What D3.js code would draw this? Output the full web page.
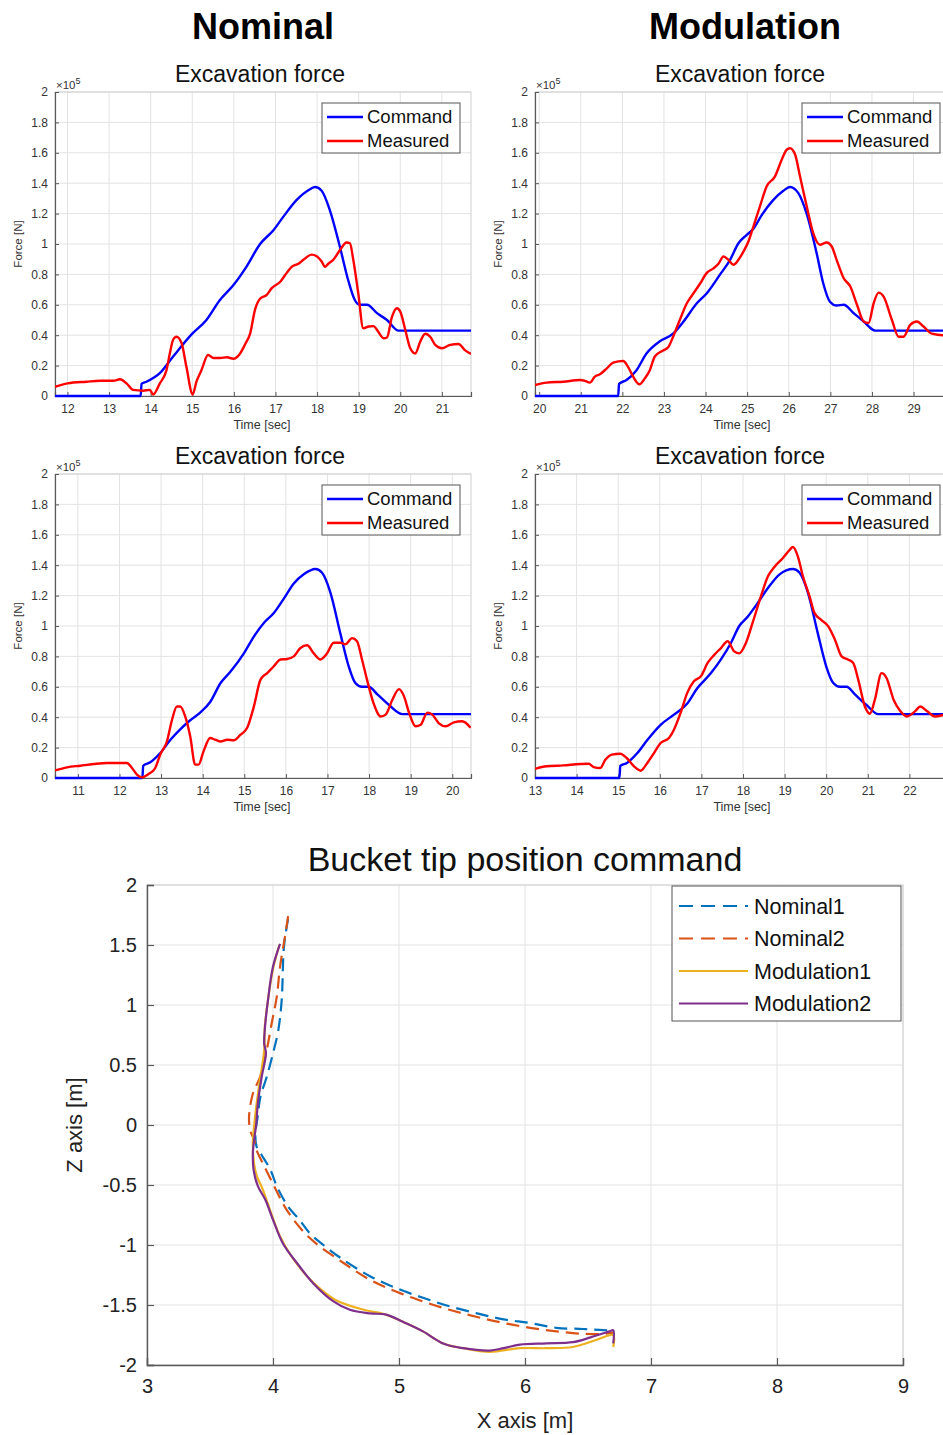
<!DOCTYPE html>
<html>
<head>
<meta charset="utf-8">
<script src="https://cdn.jsdelivr.net/npm/d3@7"></script>
<style>
  html, body { margin: 0; padding: 0; background: #fff; }
  svg { display: block; font-family: "Liberation Sans", Arial, Helvetica, sans-serif; }
</style>
</head>
<body>
<svg id="chart" width="943" height="1435"></svg>
<script>
// ---------------- DATA ----------------
const columnTitles = ["Nominal", "Modulation"];
const panelTitle = "Excavation force";
const forceTicks = [0, 0.2, 0.4, 0.6, 0.8, 1, 1.2, 1.4, 1.6, 1.8, 2];
const legendForce = ["Command", "Measured"];

// Panel A: Nominal, run 1  (time [s], force [x1e5 N])
const timeTicksA = [12, 13, 14, 15, 16, 17, 18, 19, 20, 21];
const commandA = [[11.7,0],[13.76,0],[13.78,0.08],[13.9,0.094],[14.22,0.15],[14.54,0.26],[15.0,0.41],[15.34,0.5],[15.66,0.63],[15.99,0.73],[16.3,0.85],[16.63,1.0],[16.95,1.09],[17.19,1.18],[17.51,1.29],[17.83,1.36],[17.95,1.375],[18.11,1.35],[18.31,1.22],[18.55,0.98],[18.75,0.76],[18.91,0.63],[19.03,0.6],[19.2,0.6],[19.44,0.545],[19.68,0.5],[19.96,0.43],[21.7,0.43]];
const measuredA = [[11.7,0.06],[12.0,0.083],[12.46,0.094],[12.78,0.1],[13.1,0.1],[13.26,0.11],[13.42,0.083],[13.58,0.04],[13.82,0.035],[13.98,0.04],[14.06,0.01],[14.22,0.083],[14.38,0.17],[14.46,0.28],[14.54,0.37],[14.62,0.39],[14.74,0.35],[14.86,0.19],[15.01,0.01],[15.1,0.094],[15.22,0.17],[15.38,0.27],[15.51,0.25],[15.67,0.25],[15.83,0.255],[15.99,0.245],[16.15,0.28],[16.27,0.34],[16.39,0.41],[16.51,0.57],[16.63,0.64],[16.79,0.665],[16.91,0.71],[17.11,0.75],[17.27,0.81],[17.39,0.85],[17.55,0.87],[17.67,0.896],[17.87,0.93],[17.99,0.92],[18.11,0.885],[18.19,0.85],[18.27,0.87],[18.39,0.896],[18.55,0.96],[18.71,1.01],[18.79,1.005],[18.87,0.896],[18.99,0.676],[19.11,0.446],[19.24,0.457],[19.36,0.46],[19.44,0.435],[19.6,0.38],[19.68,0.385],[19.8,0.52],[19.92,0.577],[20.0,0.555],[20.12,0.435],[20.24,0.314],[20.36,0.28],[20.48,0.358],[20.6,0.41],[20.72,0.39],[20.84,0.336],[21.0,0.314],[21.2,0.336],[21.4,0.342],[21.56,0.3],[21.7,0.277]];

// Panel B: Modulation, run 1
const timeTicksB = [20, 21, 22, 23, 24, 25, 26, 27, 28, 29];
const commandB = [[19.9,0],[21.9,0],[21.92,0.08],[22.1,0.105],[22.34,0.17],[22.58,0.28],[22.9,0.36],[23.22,0.41],[23.47,0.49],[23.79,0.61],[24.03,0.676],[24.35,0.8],[24.59,0.896],[24.79,1.005],[24.99,1.06],[25.15,1.1],[25.35,1.19],[25.63,1.29],[25.87,1.35],[26.03,1.375],[26.23,1.335],[26.43,1.2],[26.67,0.94],[26.83,0.74],[26.99,0.62],[27.15,0.595],[27.32,0.6],[27.56,0.545],[27.8,0.49],[28.08,0.43],[29.9,0.43]];
const measuredB = [[19.9,0.072],[20.18,0.088],[20.58,0.094],[20.98,0.105],[21.1,0.1],[21.22,0.088],[21.34,0.127],[21.46,0.143],[21.62,0.18],[21.78,0.22],[22.02,0.23],[22.14,0.19],[22.26,0.127],[22.41,0.077],[22.54,0.116],[22.66,0.17],[22.78,0.26],[22.98,0.3],[23.1,0.32],[23.22,0.39],[23.38,0.5],[23.55,0.61],[23.71,0.676],[23.87,0.74],[24.03,0.81],[24.19,0.84],[24.31,0.87],[24.43,0.918],[24.55,0.896],[24.67,0.863],[24.79,0.896],[24.91,0.95],[25.03,1.016],[25.15,1.115],[25.31,1.25],[25.47,1.38],[25.67,1.445],[25.83,1.554],[25.95,1.62],[26.03,1.63],[26.15,1.59],[26.27,1.445],[26.43,1.25],[26.59,1.07],[26.75,0.995],[26.91,1.01],[27.03,0.985],[27.15,0.896],[27.32,0.775],[27.48,0.72],[27.64,0.6],[27.8,0.49],[27.92,0.48],[28.04,0.61],[28.16,0.68],[28.28,0.654],[28.48,0.5],[28.64,0.39],[28.76,0.39],[28.92,0.468],[29.08,0.49],[29.24,0.457],[29.44,0.41],[29.72,0.4],[29.9,0.4]];

// Panel C: Nominal, run 2
const timeTicksC = [11, 12, 13, 14, 15, 16, 17, 18, 19, 20];
const commandC = [[10.45,0],[12.55,0],[12.57,0.08],[12.74,0.103],[12.98,0.164],[13.22,0.25],[13.46,0.32],[13.7,0.38],[13.94,0.43],[14.18,0.5],[14.43,0.625],[14.67,0.7],[14.99,0.82],[15.23,0.93],[15.47,1.02],[15.71,1.085],[15.95,1.18],[16.19,1.28],[16.43,1.34],[16.71,1.375],[16.87,1.35],[17.07,1.22],[17.31,0.95],[17.51,0.735],[17.67,0.625],[17.83,0.6],[17.99,0.6],[18.2,0.55],[18.48,0.48],[18.8,0.42],[20.45,0.42]];
const measuredC = [[10.45,0.05],[10.74,0.07],[11.06,0.081],[11.38,0.092],[11.7,0.099],[12.02,0.099],[12.18,0.099],[12.3,0.066],[12.42,0.022],[12.54,0.004],[12.7,0.026],[12.86,0.066],[12.98,0.154],[13.14,0.24],[13.26,0.38],[13.38,0.47],[13.46,0.47],[13.58,0.405],[13.7,0.274],[13.82,0.088],[13.9,0.088],[14.02,0.175],[14.18,0.263],[14.3,0.252],[14.43,0.24],[14.59,0.252],[14.75,0.248],[14.91,0.285],[15.07,0.33],[15.23,0.47],[15.39,0.647],[15.55,0.69],[15.71,0.735],[15.87,0.78],[16.03,0.783],[16.19,0.8],[16.35,0.855],[16.51,0.873],[16.67,0.82],[16.83,0.78],[16.99,0.82],[17.15,0.89],[17.31,0.89],[17.43,0.88],[17.59,0.92],[17.71,0.9],[17.83,0.78],[17.95,0.647],[18.11,0.49],[18.28,0.405],[18.4,0.417],[18.56,0.515],[18.72,0.585],[18.84,0.537],[18.96,0.43],[19.12,0.34],[19.24,0.35],[19.4,0.43],[19.52,0.417],[19.68,0.36],[19.84,0.34],[20.04,0.366],[20.24,0.373],[20.44,0.33]];

// Panel D: Modulation, run 2
const timeTicksD = [13, 14, 15, 16, 17, 18, 19, 20, 21, 22];
const commandD = [[13,0],[15.03,0],[15.05,0.08],[15.21,0.099],[15.46,0.164],[15.7,0.25],[16.02,0.35],[16.34,0.417],[16.66,0.49],[16.9,0.59],[17.23,0.69],[17.47,0.78],[17.71,0.888],[17.91,1.0],[18.11,1.06],[18.35,1.15],[18.6,1.25],[18.88,1.34],[19.2,1.375],[19.36,1.35],[19.56,1.22],[19.8,0.95],[20.0,0.735],[20.17,0.625],[20.33,0.6],[20.49,0.6],[20.69,0.55],[20.97,0.48],[21.25,0.42],[23,0.42]];
const measuredD = [[13.0,0.06],[13.28,0.077],[13.68,0.083],[14.09,0.092],[14.29,0.094],[14.41,0.072],[14.57,0.066],[14.69,0.12],[14.85,0.154],[15.05,0.16],[15.21,0.13],[15.38,0.077],[15.54,0.048],[15.7,0.099],[15.86,0.164],[16.02,0.23],[16.22,0.263],[16.34,0.318],[16.5,0.428],[16.66,0.56],[16.82,0.636],[16.99,0.67],[17.15,0.757],[17.31,0.81],[17.47,0.855],[17.63,0.9],[17.79,0.833],[17.91,0.82],[18.07,0.888],[18.23,1.02],[18.43,1.195],[18.6,1.327],[18.76,1.39],[18.96,1.447],[19.12,1.5],[19.2,1.52],[19.32,1.457],[19.44,1.327],[19.6,1.195],[19.72,1.085],[19.88,1.04],[20.05,0.998],[20.21,0.91],[20.37,0.8],[20.53,0.778],[20.65,0.757],[20.77,0.647],[20.93,0.47],[21.05,0.423],[21.17,0.515],[21.33,0.69],[21.45,0.658],[21.62,0.515],[21.78,0.44],[21.94,0.405],[22.14,0.44],[22.26,0.47],[22.42,0.44],[22.62,0.405],[22.86,0.417],[23.0,0.42]];

// Bucket tip position command  (X [m], Z [m])
const bucketTitle = "Bucket tip position command";
const xTicksPos = [3, 4, 5, 6, 7, 8, 9];
const zTicksPos = [-2, -1.5, -1, -0.5, 0, 0.5, 1, 1.5, 2];
const posSeriesNames = ["Nominal1", "Nominal2", "Modulation1", "Modulation2"];
const nominal1 = [[4.12,1.72],[4.087,1.486],[4.069,1.04],[4.042,0.79],[4.0,0.597],[3.95,0.4],[3.9,0.236],[3.88,0.08],[3.86,-0.08],[3.87,-0.18],[3.91,-0.25],[3.98,-0.375],[4.03,-0.51],[4.12,-0.68],[4.21,-0.79],[4.29,-0.9],[4.4,-1.0],[4.56,-1.125],[4.77,-1.26],[4.98,-1.36],[5.19,-1.44],[5.4,-1.51],[5.62,-1.57],[5.83,-1.62],[6.04,-1.65],[6.25,-1.69],[6.46,-1.7],[6.62,-1.71],[6.7,-1.71]];
const nominal2 = [[4.12,1.74],[4.095,1.57],[4.056,1.32],[4.03,1.07],[3.99,0.85],[3.95,0.625],[3.897,0.4],[3.84,0.26],[3.81,0.07],[3.82,-0.05],[3.85,-0.12],[3.87,-0.21],[3.92,-0.32],[4.0,-0.49],[4.11,-0.71],[4.29,-0.94],[4.56,-1.15],[4.77,-1.29],[4.98,-1.39],[5.19,-1.47],[5.4,-1.54],[5.62,-1.6],[5.83,-1.65],[6.04,-1.69],[6.25,-1.72],[6.46,-1.74],[6.62,-1.74],[6.7,-1.73]];
const modulation1 = [[4.05,1.5],[4.0,1.3],[3.96,1.04],[3.935,0.82],[3.93,0.62],[3.9,0.4],[3.87,0.18],[3.85,-0.01],[3.84,-0.15],[3.846,-0.29],[3.87,-0.42],[3.92,-0.54],[3.99,-0.75],[4.056,-0.93],[4.15,-1.1],[4.27,-1.26],[4.38,-1.37],[4.5,-1.46],[4.72,-1.54],[4.88,-1.575],[5.03,-1.64],[5.19,-1.72],[5.35,-1.82],[5.51,-1.86],[5.72,-1.89],[5.96,-1.86],[6.17,-1.86],[6.38,-1.85],[6.57,-1.79],[6.7,-1.75],[6.7,-1.85]];
const modulation2 = [[4.056,1.51],[4.0,1.32],[3.96,1.04],[3.937,0.82],[3.93,0.68],[3.944,0.6],[3.91,0.4],[3.88,0.18],[3.865,-0.01],[3.85,-0.125],[3.84,-0.24],[3.846,-0.375],[3.88,-0.51],[3.94,-0.625],[4.0,-0.79],[4.08,-0.99],[4.19,-1.15],[4.32,-1.32],[4.48,-1.47],[4.61,-1.54],[4.77,-1.57],[4.9,-1.58],[5.03,-1.64],[5.19,-1.72],[5.35,-1.82],[5.51,-1.86],[5.72,-1.88],[5.83,-1.86],[5.96,-1.83],[6.17,-1.82],[6.38,-1.81],[6.52,-1.77],[6.67,-1.72],[6.7,-1.71],[6.7,-1.82]];

// ---------------- DRAWING ----------------
const svg = d3.select("#chart");
svg.append("rect").attr("width", 943).attr("height", 1435).attr("fill", "#fff");

const GRID = "#e3e3e3", AXIS = "#5a5a5a", TXT = "#333";
const BLUE = "#0000ff", RED = "#ff0000";

// Column headers
svg.selectAll("text.colhead").data(columnTitles).enter().append("text")
  .attr("class", "colhead")
  .attr("x", (d, i) => i === 0 ? 263 : 745)
  .attr("y", 39)
  .attr("text-anchor", "middle")
  .attr("font-weight", "bold").attr("font-size", 36).attr("fill", "#000")
  .text(d => d);

const fmt = d => String(+d.toFixed(1));

function forcePanel(cfg) {
  const { left, top, width, height, domain, ticks, cmd, meas } = cfg;
  const x = d3.scaleLinear().domain(domain).range([left, left + width]);
  const y = d3.scaleLinear().domain([0, 2]).range([top + height, top]);
  const g = svg.append("g");

  const clipId = "clip" + Math.round(left) + "_" + Math.round(top);
  svg.append("clipPath").attr("id", clipId).append("rect")
    .attr("x", left).attr("y", top - 2).attr("width", width).attr("height", height + 4);

  // grid
  g.append("g").selectAll("line").data(ticks).enter().append("line")
    .attr("x1", d => x(d)).attr("x2", d => x(d)).attr("y1", top).attr("y2", top + height)
    .attr("stroke", GRID).attr("stroke-width", 1);
  g.append("g").selectAll("line").data(forceTicks).enter().append("line")
    .attr("x1", left).attr("x2", left + width).attr("y1", d => y(d)).attr("y2", d => y(d))
    .attr("stroke", GRID).attr("stroke-width", 1);
  // box
  g.append("rect").attr("x", left).attr("y", top).attr("width", width).attr("height", height)
    .attr("fill", "none").attr("stroke", "#cfcfcf").attr("stroke-width", 1);

  // axes
  const xAxis = d3.axisBottom(x).tickValues(ticks).tickSize(-4).tickPadding(8).tickFormat(d => d);
  const yAxis = d3.axisLeft(y).tickValues(forceTicks).tickSize(-4).tickPadding(7).tickFormat(fmt);
  const gx = g.append("g").attr("transform", `translate(0,${top + height})`).call(xAxis);
  const gy = g.append("g").attr("transform", `translate(${left},0)`).call(yAxis);
  [gx, gy].forEach(a => {
    a.select(".domain").attr("stroke", AXIS).attr("stroke-width", 1.2);
    a.selectAll(".tick line").attr("stroke", AXIS);
    a.selectAll(".tick text").attr("fill", TXT).attr("font-size", 12)
      .attr("font-family", "'Liberation Sans', Arial, sans-serif");
  });

  // lines
  const line = d3.line().x(d => x(d[0])).y(d => y(d[1])).curve(d3.curveMonotoneX);
  const lg = g.append("g").attr("clip-path", `url(#${clipId})`);
  lg.append("path").datum(cmd).attr("d", line).attr("fill", "none")
    .attr("stroke", BLUE).attr("stroke-width", 2.4).attr("stroke-linejoin", "round");
  lg.append("path").datum(meas).attr("d", line).attr("fill", "none")
    .attr("stroke", RED).attr("stroke-width", 2.4).attr("stroke-linejoin", "round");

  // title
  g.append("text").attr("x", left + width / 2 - 3).attr("y", top - 10)
    .attr("text-anchor", "middle").attr("font-size", 23).attr("fill", "#111").text(panelTitle);
  // exponent
  const ex = g.append("text").attr("x", left + 1).attr("y", top - 3)
    .attr("font-size", 11.5).attr("fill", TXT);
  ex.append("tspan").text("\u00d710");
  ex.append("tspan").attr("dy", -5).attr("font-size", 9).text("5");
  // axis labels
  g.append("text").attr("x", left + width / 2 - 1).attr("y", top + height + 33)
    .attr("text-anchor", "middle").attr("font-size", 12.5).attr("fill", TXT).text("Time [sec]");
  g.append("text").attr("transform", `translate(${left - 33},${top + height / 2}) rotate(-90)`)
    .attr("text-anchor", "middle").attr("font-size", 11.5).attr("fill", TXT).text("Force [N]");

  // legend
  const lw = 138, lh = 50;
  const lx = left + width - 11 - lw, ly = top + 11;
  const leg = g.append("g");
  leg.append("rect").attr("x", lx).attr("y", ly).attr("width", lw).attr("height", lh)
    .attr("fill", "#fff").attr("stroke", "#555").attr("stroke-width", 1);
  const cols = [BLUE, RED];
  legendForce.forEach((name, i) => {
    const cy = ly + 14 + i * 24;
    leg.append("line").attr("x1", lx + 5).attr("x2", lx + 41).attr("y1", cy).attr("y2", cy)
      .attr("stroke", cols[i]).attr("stroke-width", 2.4);
    leg.append("text").attr("x", lx + 45).attr("y", cy).attr("dy", "0.35em")
      .attr("font-size", 18.5).attr("fill", "#111").text(name);
  });
}

forcePanel({ left: 55, top: 92, width: 416, height: 304, domain: [11.7, 21.7], ticks: timeTicksA, cmd: commandA, meas: measuredA });
forcePanel({ left: 535, top: 92, width: 416, height: 304, domain: [19.9, 29.9], ticks: timeTicksB, cmd: commandB, meas: measuredB });
forcePanel({ left: 55, top: 474, width: 416, height: 304, domain: [10.45, 20.45], ticks: timeTicksC, cmd: commandC, meas: measuredC });
forcePanel({ left: 535, top: 474, width: 416, height: 304, domain: [13, 23], ticks: timeTicksD, cmd: commandD, meas: measuredD });

// ---------------- Bucket tip position ----------------
(function () {
  const left = 147, right = 903, top = 885, bottom = 1365;
  const x = d3.scaleLinear().domain([3, 9]).range([left, right]);
  const y = d3.scaleLinear().domain([-2, 2]).range([bottom, top]);
  const g = svg.append("g");

  g.append("g").selectAll("line").data(xTicksPos).enter().append("line")
    .attr("x1", d => x(d)).attr("x2", d => x(d)).attr("y1", top).attr("y2", bottom)
    .attr("stroke", GRID).attr("stroke-width", 1);
  g.append("g").selectAll("line").data(zTicksPos).enter().append("line")
    .attr("x1", left).attr("x2", right).attr("y1", d => y(d)).attr("y2", d => y(d))
    .attr("stroke", GRID).attr("stroke-width", 1);
  g.append("rect").attr("x", left).attr("y", top).attr("width", right - left).attr("height", bottom - top)
    .attr("fill", "none").attr("stroke", "#cfcfcf").attr("stroke-width", 1);

  const xAxis = d3.axisBottom(x).tickValues(xTicksPos).tickSize(-7).tickPadding(14).tickFormat(d => d);
  const yAxis = d3.axisLeft(y).tickValues(zTicksPos).tickSize(-7).tickPadding(10).tickFormat(d => String(d));
  const gx = g.append("g").attr("transform", `translate(0,${bottom})`).call(xAxis);
  const gy = g.append("g").attr("transform", `translate(${left},0)`).call(yAxis);
  [gx, gy].forEach(a => {
    a.select(".domain").attr("stroke", AXIS).attr("stroke-width", 1.4);
    a.selectAll(".tick line").attr("stroke", AXIS).attr("stroke-width", 1.2);
    a.selectAll(".tick text").attr("fill", "#222").attr("font-size", 20)
      .attr("font-family", "'Liberation Sans', Arial, sans-serif");
  });

  g.append("text").attr("x", 525).attr("y", 871).attr("text-anchor", "middle")
    .attr("font-size", 34).attr("fill", "#111").text(bucketTitle);
  g.append("text").attr("x", 525).attr("y", 1428).attr("text-anchor", "middle")
    .attr("font-size", 22).attr("fill", "#222").text("X axis [m]");
  g.append("text").attr("transform", `translate(82,1125) rotate(-90)`).attr("text-anchor", "middle")
    .attr("font-size", 22).attr("fill", "#222").text("Z axis [m]");

  const styles = [
    { data: nominal1, color: "#0072BD", dash: "13,7" },
    { data: nominal2, color: "#D95319", dash: "13,7" },
    { data: modulation1, color: "#EDB120", dash: null },
    { data: modulation2, color: "#7E2F8E", dash: null }
  ];
  const line = d3.line().x(d => x(d[0])).y(d => y(d[1])).curve(d3.curveCatmullRom.alpha(0.5));
  styles.forEach(s => {
    g.append("path").datum(s.data).attr("d", line).attr("fill", "none")
      .attr("stroke", s.color).attr("stroke-width", 2.2)
      .attr("stroke-dasharray", s.dash).attr("stroke-linejoin", "round");
  });

  // legend
  const lx = 672, ly = 886, lw = 229, lh = 135;
  g.append("rect").attr("x", lx).attr("y", ly).attr("width", lw).attr("height", lh)
    .attr("fill", "#fff").attr("stroke", "#555").attr("stroke-width", 1);
  posSeriesNames.forEach((name, i) => {
    const cy = ly + 20 + i * 32.5;
    g.append("line").attr("x1", lx + 7).attr("x2", lx + 76).attr("y1", cy).attr("y2", cy)
      .attr("stroke", styles[i].color).attr("stroke-width", 2.2)
      .attr("stroke-dasharray", styles[i].dash ? "14,8" : null);
    g.append("text").attr("x", lx + 82).attr("y", cy).attr("dy", "0.35em")
      .attr("font-size", 21.5).attr("fill", "#111").text(name);
  });
})();
</script>
</body>
</html>
